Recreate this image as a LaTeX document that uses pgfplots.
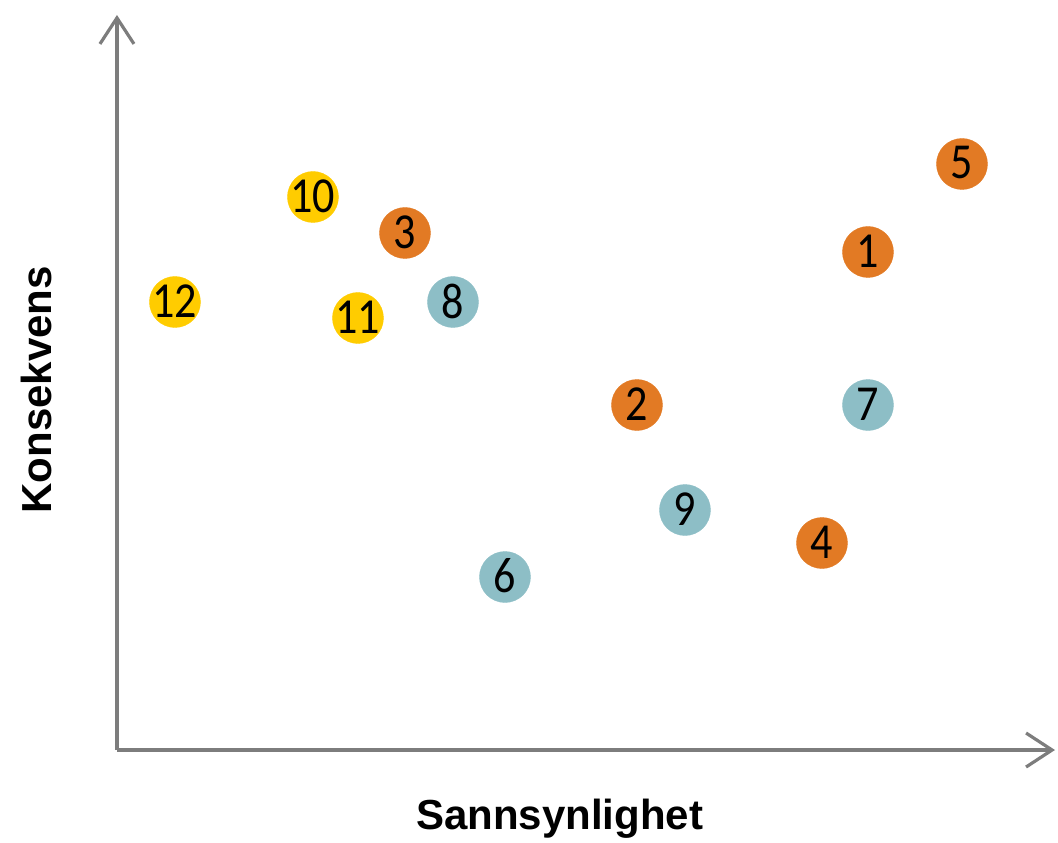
\documentclass[border=0pt]{standalone}
\usepackage{pgfplots}
\pgfplotsset{compat=1.18}
\usepackage{graphicx}
\usepackage{fontspec}
\setmainfont{Liberation Sans}
\newfontfamily\numfont{Carlito}
\usetikzlibrary{arrows.meta}
\definecolor{orangeC}{RGB}{226,122,36}
\definecolor{yellowC}{RGB}{255,204,0}
\definecolor{tealC}{RGB}{141,190,198}
\definecolor{axisgray}{RGB}{125,125,125}
\begin{document}
\begin{tikzpicture}
\begin{axis}[
  scale only axis, width=938pt, height=735pt,
  xmin=0, xmax=938, ymin=0, ymax=735,
  axis lines=left, xtick=\empty, ytick=\empty,
  axis line style={draw=axisgray, line width=3.2pt, -{Straight Barb[length=26pt,width=34pt,line width=3.2pt]}},
  clip=false,
  xlabel={Sannsynlighet}, ylabel={Konsekvens},
  xlabel style={at={(rel axis cs:0.472,-0.093)}, anchor=center, font=\fontsize{42}{48}\selectfont\bfseries},
  ylabel style={at={(rel axis cs:-0.086,0.49)}, anchor=center, font=\fontsize{42}{48}\selectfont\bfseries},
  every node near coord/.style={anchor=center, font=\fontsize{45}{50}\selectfont\numfont, text=black, yshift=1pt},
  nodes near coords={\scalebox{0.98}[1.12]{\pgfplotspointmeta}}, point meta=explicit symbolic,
  every mark/.append style={yscale=1.08},
]
\addplot[only marks, mark=*, mark size=25.5pt, color=yellowC]
  table[meta=label] {
x y label
58 448 12
196 553 10
241 432 11
};
\addplot[only marks, mark=*, mark size=25.5pt, color=orangeC]
  table[meta=label] {
x y label
288 517 3
520 345 2
705 207 4
751 498 1
845 586 5
};
\addplot[only marks, mark=*, mark size=25.5pt, color=tealC]
  table[meta=label] {
x y label
336 448 8
568 240 9
388 173 6
751 345 7
};
\path (rel axis cs:-0.1247,-0.1265) rectangle (rel axis cs:1.0032,1.0204);
\end{axis}
\end{tikzpicture}
\end{document}
